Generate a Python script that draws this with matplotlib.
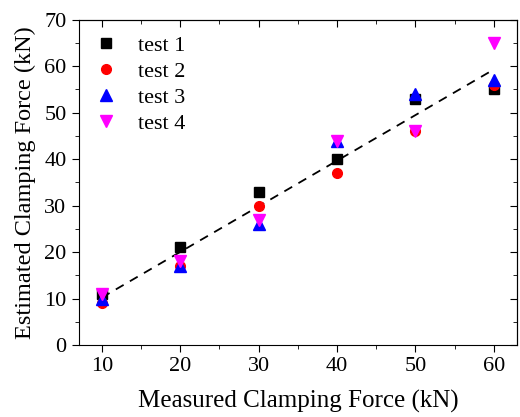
import matplotlib
matplotlib.use("Agg")
import matplotlib.pyplot as plt
from matplotlib.ticker import MultipleLocator

# measured clamping force (kN)
x = [10, 20, 30, 40, 50, 60]

# estimated clamping force (kN) per test
test1 = [11, 21, 33, 40, 53, 55]
test2 = [9, 17, 30, 37, 46, 56]
test3 = [10, 17, 26, 44, 54, 57]
test4 = [11, 18, 27, 44, 46, 65]

# fitted line
fit_x = [10, 60]
fit_y = [10.2, 59.3]

plt.rcParams['font.family'] = ['Liberation Serif', 'DejaVu Serif']

fig = plt.figure(figsize=(5.2, 4.17), dpi=100)
ax = fig.add_axes([0.152, 0.1727, 0.843, 0.780])

ax.plot(fit_x, fit_y, color="black", linestyle=(0, (5, 4)), linewidth=1.3)
ax.plot(x, test1, "s", color="black", markersize=7, linestyle="none", label="test 1")
ax.plot(x, test2, "o", color="red", markersize=7, linestyle="none", label="test 2")
ax.plot(x, test3, "^", color="blue", markersize=8, linestyle="none", label="test 3")
ax.plot(x, test4, "v", color="magenta", markersize=8, linestyle="none", label="test 4")

ax.set_xlim(7.1, 63.0)
ax.set_ylim(0, 70)
ax.xaxis.set_major_locator(MultipleLocator(10))
ax.xaxis.set_minor_locator(MultipleLocator(5))
ax.yaxis.set_major_locator(MultipleLocator(10))
ax.yaxis.set_minor_locator(MultipleLocator(5))
ax.tick_params(which="both", direction="out", labelsize=16)
ax.tick_params(which="major", length=5, pad=4)
ax.tick_params(which="minor", length=3)

# mirrored ticks on top and right point inwards
top = ax.secondary_xaxis("top")
top.xaxis.set_major_locator(MultipleLocator(10))
top.xaxis.set_minor_locator(MultipleLocator(5))
top.tick_params(which="both", direction="in", labeltop=False)
top.tick_params(which="major", length=5)
top.tick_params(which="minor", length=3)

right = ax.secondary_yaxis("right")
right.yaxis.set_major_locator(MultipleLocator(10))
right.yaxis.set_minor_locator(MultipleLocator(5))
right.tick_params(which="both", direction="in", labelright=False)
right.tick_params(which="major", length=5)
right.tick_params(which="minor", length=3)

ax.set_xlabel("Measured Clamping Force (kN)", fontsize=18, labelpad=10)
ax.set_ylabel("Estimated Clamping Force (kN)", fontsize=17.5, labelpad=6)

ax.legend(loc="upper left", frameon=False, fontsize=16, handlelength=1.0,
          handletextpad=0.95, labelspacing=0.25, borderaxespad=0.3,
          bbox_to_anchor=(0.0, 1.0))

fig.savefig("out.png", dpi=100)
